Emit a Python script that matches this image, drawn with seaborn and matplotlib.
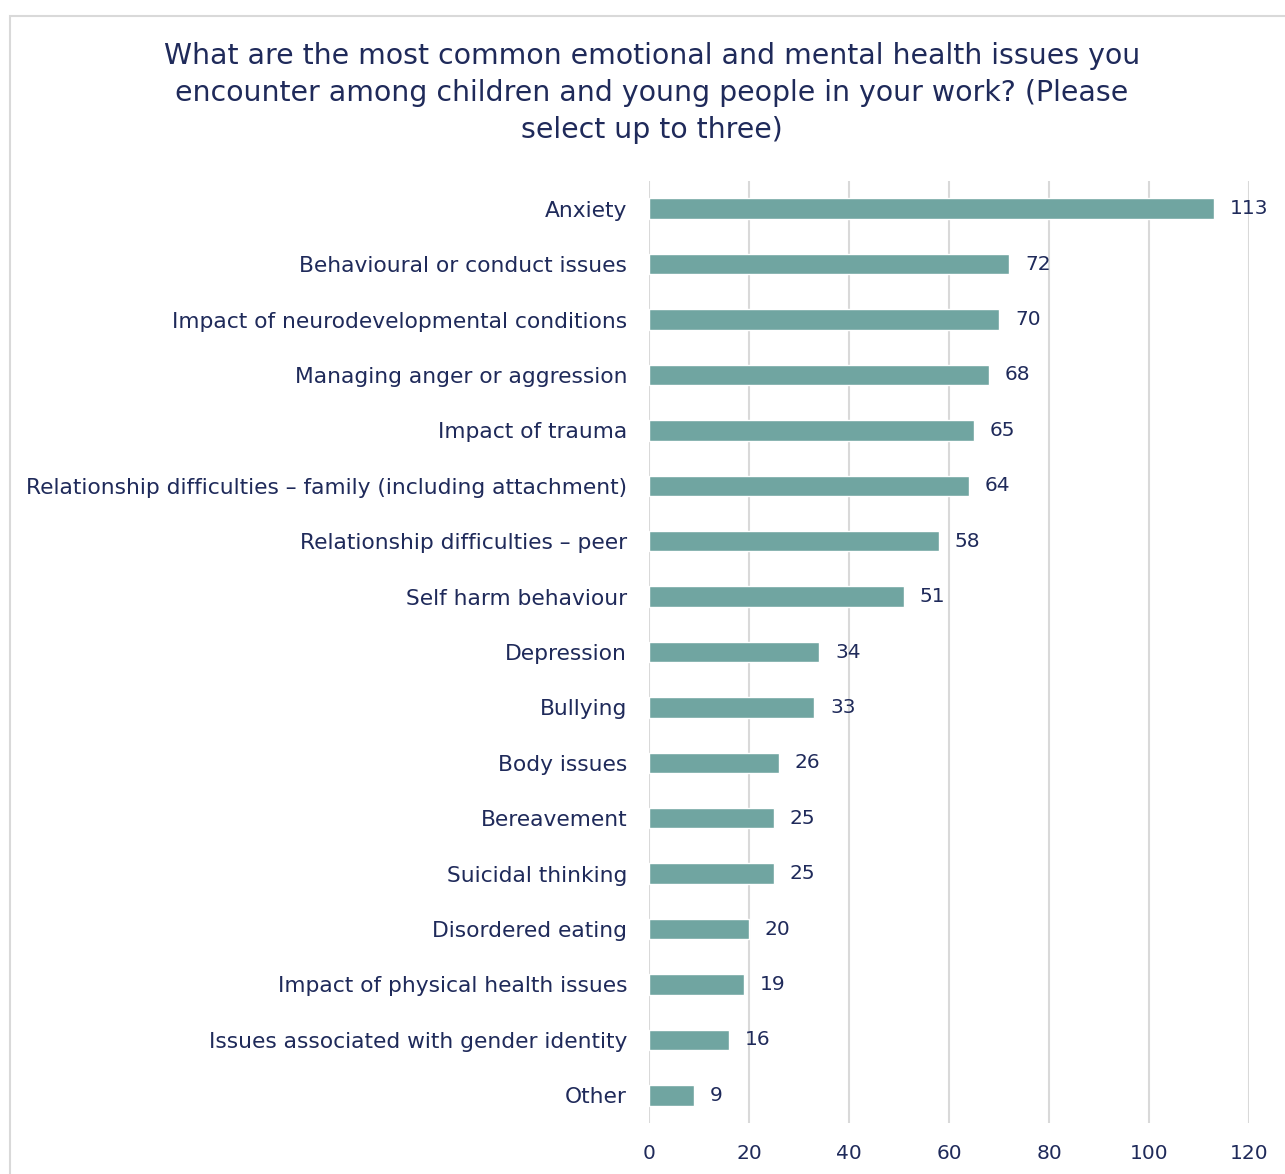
import matplotlib
matplotlib.use("Agg")
import matplotlib.pyplot as plt
from matplotlib.patches import Rectangle
import seaborn as sns
import pandas as pd

categories = [
    "Anxiety",
    "Behavioural or conduct issues",
    "Impact of neurodevelopmental conditions",
    "Managing anger or aggression",
    "Impact of trauma",
    "Relationship difficulties \u2013 family (including attachment)",
    "Relationship difficulties \u2013 peer",
    "Self harm behaviour",
    "Depression",
    "Bullying",
    "Body issues",
    "Bereavement",
    "Suicidal thinking",
    "Disordered eating",
    "Impact of physical health issues",
    "Issues associated with gender identity",
    "Other",
]
counts = [113, 72, 70, 68, 65, 64, 58, 51, 34, 33, 26, 25, 25, 20, 19, 16, 9]
x_ticks = [0, 20, 40, 60, 80, 100, 120]

title = ("What are the most common emotional and mental health issues you\n"
         "encounter among children and young people in your work? (Please\n"
         "select up to three)")

navy = "#1f2a5a"
teal = "#70a5a1"
grid_col = "#d9d9d9"

sns.set_theme(style="white")
plt.rcParams["font.family"] = ["DejaVu Sans"]

df = pd.DataFrame({"issue": categories, "count": counts})

W, H = 1285, 1174
fig = plt.figure(figsize=(W / 100, H / 100), dpi=100)
ax = fig.add_axes([649 / W, 1 - 1123 / H, 600 / W, (1123 - 181) / H])

sns.barplot(data=df, x="count", y="issue", color=teal, saturation=1,
            width=0.37, ax=ax, zorder=3)

ax.set_xlim(0, 120)
ax.set_ylim(16.5, -0.5)
ax.set_xticks(x_ticks)
ax.set_xticklabels([str(t) for t in x_ticks])
ax.xaxis.grid(True, color=grid_col, linewidth=1.5, zorder=0)
ax.set_axisbelow(True)
for s in ax.spines.values():
    s.set_visible(False)
ax.set_xlabel("")
ax.set_ylabel("")
ax.tick_params(axis="y", length=0, pad=15.8, labelsize=15.7, labelcolor=navy)
ax.tick_params(axis="x", length=0, pad=15, labelsize=14.5, labelcolor=navy)

for i, v in enumerate(counts):
    ax.annotate(str(v), xy=(v, i), xytext=(11.5, 0), textcoords="offset points",
                ha="left", va="center", fontsize=14.5, color=navy)

fig.text(652 / W, 1 - 42 / H, title, ha="center", va="top", fontsize=20.4,
         color=navy, linespacing=1.4)

fig.patches.append(Rectangle((10 / W, -0.05), 1.0, 1 - 16 / H + 0.05,
                             transform=fig.transFigure, fill=False,
                             edgecolor="#d9d9d9", linewidth=1.5))

fig.savefig("out.png", dpi=100, facecolor="white")
